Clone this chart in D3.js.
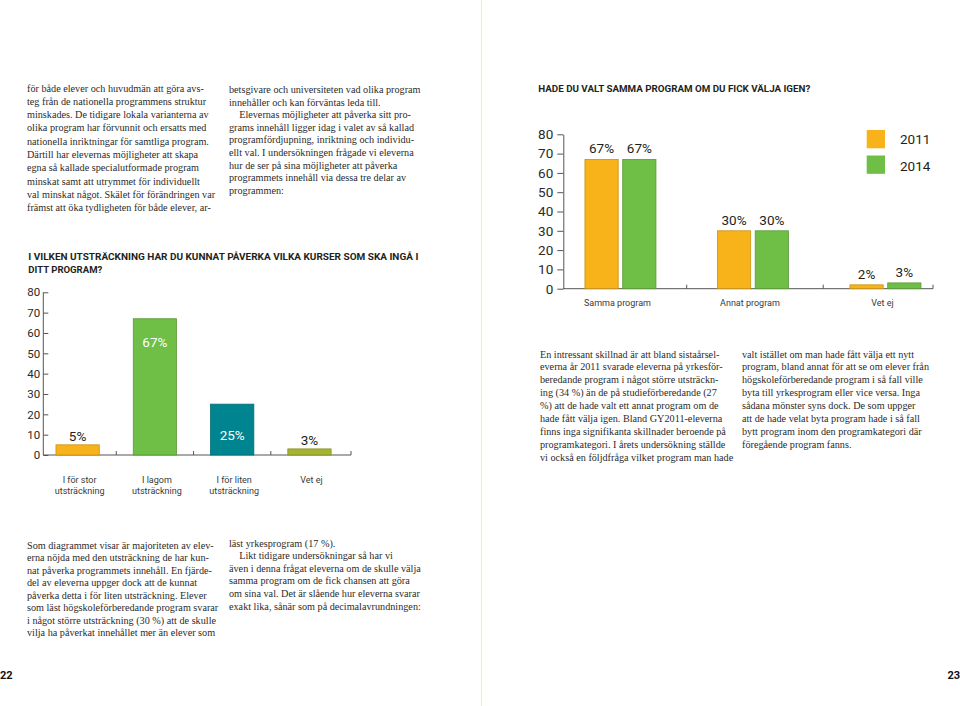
<!DOCTYPE html>
<html>
<head>
<meta charset="utf-8">
<script src="https://cdn.jsdelivr.net/npm/d3@7"></script>
<style>
  body { margin: 0; background: #fff; }
  svg { display: block; }
  .body-text { font-family: "Liberation Serif", "DejaVu Serif", serif; font-size: 10.2px; fill: #2b2b2b; }
  .chart-title { font-family: Roboto, "DejaVu Sans", sans-serif; font-weight: 700; font-size: 9.6px; fill: #231f20; }
  .tick text { font-family: Roboto, sans-serif; fill: #2a2a2a; }
  .cat { font-family: Roboto, sans-serif; font-size: 9px; fill: #3a3a3a; }
  .val { font-family: Roboto, sans-serif; font-size: 13.5px; }
  .pageno { font-family: Roboto, sans-serif; font-weight: 700; font-size: 11px; fill: #111; }
</style>
</head>
<body>
<script>
// ---- data ----
const q1Categories = [["I för stor", "utsträckning"], ["I lagom", "utsträckning"], ["I för liten", "utsträckning"], ["Vet ej"]];
const q1Values = [5, 67, 25, 3];
const q1Colors = ["#f9b31a", "#6fbe45", "#00848f", "#a6b432"];

const q2Categories = ["Samma program", "Annat program", "Vet ej"];
const q2Years = ["2011", "2014"];
const q2Values2011 = [67, 30, 2];
const q2Values2014 = [67, 30, 3];
const q2Colors = ["#f9b31a", "#6fbe45"];

const yTicks = [0, 10, 20, 30, 40, 50, 60, 70, 80];

// text columns (lines as set on the page)
const col1 = ["för både elever och huvudmän att göra avs-", "teg från de nationella programmens struktur", "minskades. De tidigare lokala varianterna av", "olika program har förvunnit och ersatts med", "nationella inriktningar för samtliga program.", "Därtill har elevernas möjligheter att skapa", "egna så kallade specialutformade program", "minskat samt att utrymmet för individuellt", "val minskat något. Skälet för förändringen var", "främst att öka tydligheten för både elever, ar-"];
const col2 = ["betsgivare och universiteten vad olika program", "innehåller och kan förväntas leda till.", "\u2003Elevernas möjligheter att påverka sitt pro-", "grams innehåll ligger idag i valet av så kallad", "programfördjupning, inriktning och individu-", "ellt val. I undersökningen frågade vi eleverna", "hur de ser på sina möjligheter att påverka", "programmets innehåll via dessa tre delar av", "programmen:"];
const col3 = ["En intressant skillnad är att bland sistaårsel-", "everna år 2011 svarade eleverna på yrkesför-", "beredande program i något större utsträckn-", "ing (34 %) än de på studieförberedande (27", "%) att de hade valt ett annat program om de", "hade fått välja igen. Bland GY2011-eleverna", "finns inga signifikanta skillnader beroende på", "programkategori. I årets undersökning ställde", "vi också en följdfråga vilket program man hade"];
const col4 = ["valt istället om man hade fått välja ett nytt", "program, bland annat för att se om elever från", "högskoleförberedande program i så fall ville", "byta till yrkesprogram eller vice versa. Inga", "sådana mönster syns dock. De som uppger", "att de hade velat byta program hade i så fall", "bytt program inom den programkategori där", "föregående program fanns."];
const col5 = ["Som diagrammet visar är majoriteten av elev-", "erna nöjda med den utsträckning de har kun-", "nat påverka programmets innehåll. En fjärde-", "del av eleverna uppger dock att de kunnat", "påverka detta i för liten utsträckning. Elever", "som läst högskoleförberedande program svarar", "i något större utsträckning (30 %) att de skulle", "vilja ha påverkat innehållet mer än elever som"];
const col6 = ["läst yrkesprogram (17 %).", "\u2003Likt tidigare undersökningar så har vi", "även i denna frågat eleverna om de skulle välja", "samma program om de fick chansen att göra", "om sina val. Det är slående hur eleverna svarar", "exakt lika, sånär som på decimalavrundningen:"];

const W = 960, H = 706;
const svg = d3.select("body").append("svg").attr("width", W).attr("height", H);

// centre fold
svg.append("line").attr("x1", 481.5).attr("x2", 481.5).attr("y1", 0).attr("y2", H)
   .attr("stroke", "#f6eccb").attr("stroke-width", 1.2);

// text blocks
function block(lines, x, y, lead) {
  const t = svg.append("text").attr("class", "body-text");
  lines.forEach((l, i) => {
    t.append("tspan").attr("x", x).attr("y", y + i * lead).text(l);
  });
}
block(col1, 27, 91.5, 13.3);
block(col2, 229, 93, 12.6);
block(col3, 540, 357.5, 12.9);
block(col4, 742, 357.5, 12.9);
block(col5, 27, 548.5, 12.5);
block(col6, 229, 546.5, 12.6);

// page numbers
svg.append("text").attr("class", "pageno").attr("x", 0).attr("y", 679).text("22");
svg.append("text").attr("class", "pageno").attr("x", 960).attr("y", 679).attr("text-anchor", "end").text("23");

// ---------- chart 1 ----------
const c1 = svg.append("g");
c1.append("text").attr("class", "chart-title").attr("x", 28.3).attr("y", 259.5)
  .attr("textLength", 390).attr("lengthAdjust", "spacingAndGlyphs")
  .text("I VILKEN UTSTRÄCKNING HAR DU KUNNAT PÅVERKA VILKA KURSER SOM SKA INGÅ I");
c1.append("text").attr("class", "chart-title").attr("x", 28.3).attr("y", 272.8)
  .attr("textLength", 74).attr("lengthAdjust", "spacingAndGlyphs")
  .text("DITT PROGRAM?");

const y1 = d3.scaleLinear().domain([0, 80]).range([455, 292.3]);
const x1 = d3.scaleBand().domain(d3.range(q1Values.length)).range([43.3, 343.8])
  .paddingInner(0.44).paddingOuter(0.164);

const ax1 = c1.append("g").attr("transform", "translate(43.3,0)")
  .call(d3.axisLeft(y1).tickValues(yTicks).tickSizeInner(-5).tickSizeOuter(0).tickPadding(3));
ax1.selectAll("path, line").attr("stroke", "#555");
ax1.selectAll("text").attr("font-size", 11.5);
ax1.select(".domain").remove();
c1.append("line").attr("x1", 43.3).attr("x2", 43.3).attr("y1", y1(80)).attr("y2", y1(0)).attr("stroke", "#555");
c1.append("line").attr("x1", 43.3).attr("x2", 351).attr("y1", y1(0)).attr("y2", y1(0)).attr("stroke", "#555");
const gap1 = x1.step() - x1.bandwidth();
d3.range(1, q1Values.length).map(i => x1(i) - gap1 / 2).concat([351]).forEach(x => {
  c1.append("line").attr("x1", x).attr("x2", x).attr("y1", y1(0)).attr("y2", y1(0) - 4).attr("stroke", "#555");
});

c1.selectAll("rect.bar").data(q1Values).join("rect").attr("class", "bar")
  .attr("x", (d, i) => x1(i)).attr("width", x1.bandwidth())
  .attr("y", d => y1(d)).attr("height", d => y1(0) - y1(d))
  .attr("fill", (d, i) => q1Colors[i])
  .attr("stroke", (d, i) => d3.color(q1Colors[i]).darker(0.6)).attr("stroke-width", 0.8);

// labels: inside for the tall bars (white), above for the small ones
const q1LabelInside = [null, 28, 36, null];
c1.selectAll("text.val").data(q1Values).join("text").attr("class", "val")
  .attr("x", (d, i) => x1(i) + x1.bandwidth() / 2)
  .attr("y", (d, i) => q1LabelInside[i] ? y1(d) + q1LabelInside[i] : y1(d) - 4)
  .attr("text-anchor", "middle")
  .style("fill", (d, i) => q1LabelInside[i] ? "#fff" : "#231f20")
  .text(d => d + "%");

q1Categories.forEach((lines, i) => {
  const t = c1.append("text").attr("class", "cat").attr("text-anchor", "middle");
  lines.forEach((l, j) => t.append("tspan").attr("x", x1(i) + x1.bandwidth() / 2 + 2).attr("y", 482.5 + j * 11.6).text(l));
});

// ---------- chart 2 ----------
const c2 = svg.append("g");
c2.append("text").attr("class", "chart-title").attr("x", 538.3).attr("y", 92.3)
  .attr("textLength", 272).attr("lengthAdjust", "spacingAndGlyphs")
  .text("HADE DU VALT SAMMA PROGRAM OM DU FICK VÄLJA IGEN?");

const y2 = d3.scaleLinear().domain([0, 80]).range([288.7, 134.3]);
const x2 = d3.scaleBand().domain(q2Categories).range([554.2, 951.7]);
const xs = d3.scaleBand().domain(q2Years).range([-35.5, 35.5]).paddingInner(0.12);

const ax2 = c2.append("g").attr("transform", "translate(563.3,0)")
  .call(d3.axisLeft(y2).tickValues(yTicks).tickSizeInner(6).tickSizeOuter(0).tickPadding(4));
ax2.selectAll("path, line").attr("stroke", "#555");
ax2.selectAll("text").attr("font-size", 13.5);
c2.append("line").attr("x1", 563.3).attr("x2", 933).attr("y1", y2(0)).attr("y2", y2(0)).attr("stroke", "#555");
[x2(q2Categories[1]), x2(q2Categories[2]) + 4, 933].forEach(x => {
  c2.append("line").attr("x1", x).attr("x2", x).attr("y1", y2(0)).attr("y2", y2(0) - 4).attr("stroke", "#555");
});

const q2Series = [q2Values2011, q2Values2014];
q2Series.forEach((vals, s) => {
  const yr = q2Years[s];
  const g = c2.append("g");
  g.selectAll("rect").data(vals).join("rect")
    .attr("x", (d, i) => x2(q2Categories[i]) + x2.bandwidth() / 2 + xs(yr))
    .attr("width", xs.bandwidth())
    .attr("y", d => y2(d)).attr("height", d => y2(0) - y2(d))
    .attr("fill", q2Colors[s])
    .attr("stroke", d3.color(q2Colors[s]).darker(0.6)).attr("stroke-width", 0.8);
  g.selectAll("text").data(vals).join("text").attr("class", "val")
    .attr("x", (d, i) => x2(q2Categories[i]) + x2.bandwidth() / 2 + xs(yr) + xs.bandwidth() / 2)
    .attr("y", d => y2(d) - 6)
    .attr("text-anchor", "middle").style("fill", "#231f20").text(d => d + "%");
});

q2Categories.forEach(c => {
  c2.append("text").attr("class", "cat").attr("font-size", 9.5).attr("text-anchor", "middle")
    .attr("x", x2(c) + x2.bandwidth() / 2 - 3).attr("y", 305.5).text(c);
});

// legend
q2Years.forEach((yr, i) => {
  c2.append("rect").attr("x", 866.7).attr("y", 130 + i * 25.5).attr("width", 18.3).attr("height", 18.3)
    .attr("fill", q2Colors[i]);
  c2.append("text").attr("class", "val").attr("font-size", 14).style("fill", "#231f20")
    .attr("x", 900).attr("y", 144 + i * 26.5).text(yr);
});
</script>
</body>
</html>
